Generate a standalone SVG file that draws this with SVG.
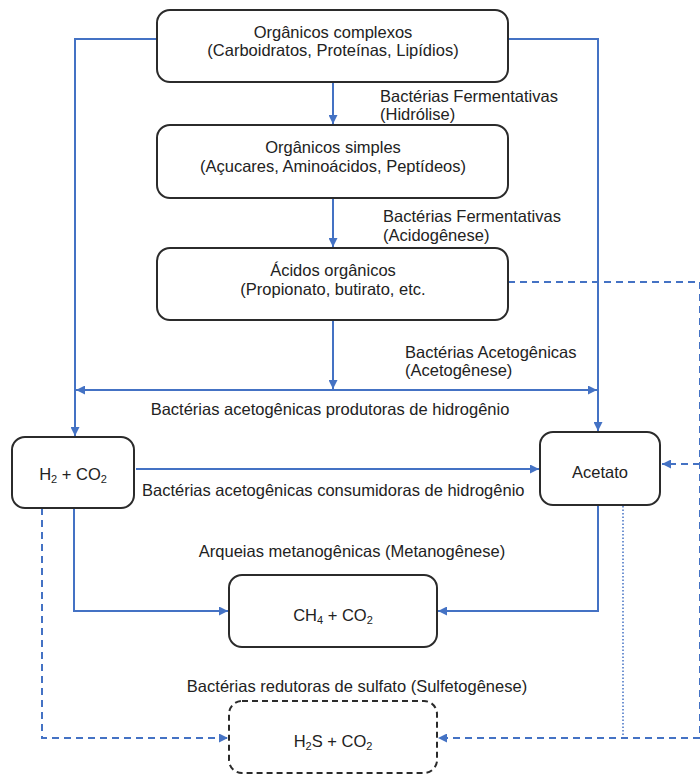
<svg xmlns="http://www.w3.org/2000/svg" width="700" height="775" viewBox="0 0 700 775">
<defs>
<marker id="ah" viewBox="0 0 10 10" refX="10" refY="5" markerWidth="9" markerHeight="9" markerUnits="userSpaceOnUse" orient="auto-start-reverse">
<path d="M0,0 L10,5 L0,10 z" fill="#4472C4"/>
</marker>
</defs>
<style>
.box{fill:#fff;stroke:#2b2b2b;stroke-width:2}
.dbox{fill:#fff;stroke:#2b2b2b;stroke-width:2;stroke-dasharray:6 4}
.t{font-family:"Liberation Sans",Arial,sans-serif;font-size:16.5px;fill:#222;text-anchor:middle}
.l{font-family:"Liberation Sans",Arial,sans-serif;font-size:16.5px;fill:#222}
.c{fill:none;stroke:#4472C4;stroke-width:2}
.d{fill:none;stroke:#4472C4;stroke-width:2;stroke-dasharray:7 5}
.dot{fill:none;stroke:#4472C4;stroke-width:1.5;stroke-dasharray:1.5 2}
.sub{font-size:11px}
</style>
<rect width="700" height="775" fill="#fff"/>
<g id="connectors">
<line class="c" x1="333" y1="82" x2="333" y2="124" marker-end="url(#ah)"/>
<line class="c" x1="333" y1="198" x2="333" y2="247" marker-end="url(#ah)"/>
<line class="c" x1="333" y1="320" x2="333" y2="389" marker-end="url(#ah)"/>
<polyline class="c" points="157,39 75,39 75,436" marker-end="url(#ah)"/>
<polyline class="c" points="508,39 598,39 598,431" marker-end="url(#ah)"/>
<line class="c" x1="76" y1="390" x2="597" y2="390" marker-start="url(#ah)" marker-end="url(#ah)"/>
<line class="c" x1="136" y1="469" x2="539" y2="469" marker-end="url(#ah)"/>
<polyline class="c" points="74,508 74,611 228,611" marker-end="url(#ah)"/>
<polyline class="c" points="598,505 598,611 438,611" marker-end="url(#ah)"/>
<polyline class="d" points="508,282 699,282"/>
<line class="d" x1="699.5" y1="282" x2="699.5" y2="738" style="stroke-width:1"/>
<line class="d" x1="700" y1="464" x2="662" y2="464" marker-end="url(#ah)"/>
<polyline class="d" points="42,508 42,738 228,738" marker-end="url(#ah)"/>
<line class="d" x1="700" y1="738" x2="438" y2="738" marker-end="url(#ah)"/>
<line class="dot" x1="623" y1="506" x2="623" y2="738"/>
</g>
<g id="labels">
<text class="l" x="380" y="102">Bactérias Fermentativas</text>
<text class="l" x="380" y="120">(Hidrólise)</text>
<text class="l" x="383" y="222">Bactérias Fermentativas</text>
<text class="l" x="383" y="241">(Acidogênese)</text>
<text class="l" x="405" y="358">Bactérias Acetogênicas</text>
<text class="l" x="405" y="376">(Acetogênese)</text>
<text class="t" x="330" y="415">Bactérias acetogênicas produtoras de hidrogênio</text>
<text class="l" x="142" y="496">Bactérias acetogênicas consumidoras de hidrogênio</text>
<text class="t" x="352" y="557">Arqueias metanogênicas (Metanogênese)</text>
<text class="t" x="357" y="692">Bactérias redutoras de sulfato (Sulfetogênese)</text>
</g>
<g id="n1">
<rect class="box" x="157" y="10" width="351" height="72" rx="13"/>
<text class="t" x="333" y="38">Orgânicos complexos</text>
<text class="t" x="333" y="56">(Carboidratos, Proteínas, Lipídios)</text>
</g>
<g id="n2">
<rect class="box" x="157" y="125" width="351" height="73" rx="13"/>
<text class="t" x="333" y="153">Orgânicos simples</text>
<text class="t" x="333" y="172">(Açucares, Aminoácidos, Peptídeos)</text>
</g>
<g id="n3">
<rect class="box" x="157" y="248" width="351" height="72" rx="13"/>
<text class="t" x="333" y="276">Ácidos orgânicos</text>
<text class="t" x="333" y="295">(Propionato, butirato, etc.</text>
</g>
<g id="n4">
<rect class="box" x="12" y="437" width="122" height="71" rx="13"/>
<text class="t" x="73" y="480">H<tspan class="sub" dy="3">2</tspan><tspan dy="-3"> + CO</tspan><tspan class="sub" dy="3">2</tspan></text>
</g>
<g id="n5">
<rect class="box" x="540" y="432" width="120" height="73" rx="13"/>
<text class="t" x="600" y="478">Acetato</text>
</g>
<g id="n6">
<rect class="box" x="229" y="575" width="208" height="72" rx="13"/>
<text class="t" x="333" y="621">CH<tspan class="sub" dy="3">4</tspan><tspan dy="-3"> + CO</tspan><tspan class="sub" dy="3">2</tspan></text>
</g>
<g id="n7">
<rect class="dbox" x="229" y="701" width="208" height="72" rx="13"/>
<text class="t" x="333" y="747">H<tspan class="sub" dy="3">2</tspan><tspan dy="-3">S + CO</tspan><tspan class="sub" dy="3">2</tspan></text>
</g>
</svg>
